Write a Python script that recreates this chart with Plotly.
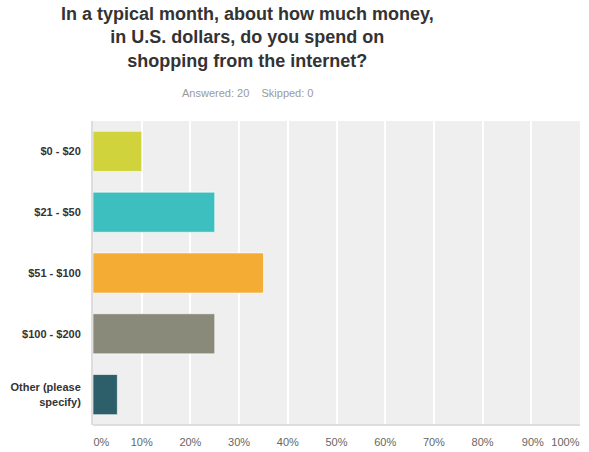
import plotly.graph_objects as go

# Survey answers and share of respondents (%)
categories = ["$0 - $20", "$21 - $50", "$51 - $100", "$100 - $200", "Other (please<br>specify)"]
percentages = [10, 25, 35, 25, 5]
bar_colors = ["#d0d33c", "#3dbfbf", "#f4ac35", "#8a8a7b", "#2d5f6a"]
inner_tick_values = [10, 20, 30, 40, 50, 60, 70, 80, 90]
inner_tick_labels = ["10%", "20%", "30%", "40%", "50%", "60%", "70%", "80%", "&nbsp;90%"]
start_tick, start_label = 0, "0%"
end_tick, end_label = 100, "100%"

title_text = ("In a typical month, about how much money,<br>"
              "in U.S. dollars, do you spend on<br>"
              "shopping from the internet?")
subtitle_text = "Answered: 20&nbsp;&nbsp;&nbsp;&nbsp;Skipped: 0"

fig = go.Figure(
    go.Bar(
        x=percentages,
        y=categories,
        orientation="h",
        marker=dict(color=bar_colors, line=dict(color="rgba(255,255,255,0.6)", width=1)),
        width=0.66,
        hoverinfo="x+y",
    )
)
# Empty traces so the two overlay axes (end labels kept inside the plot width) get drawn
fig.add_trace(go.Scatter(x=[], y=[], xaxis="x2", showlegend=False, hoverinfo="skip"))
fig.add_trace(go.Scatter(x=[], y=[], xaxis="x3", showlegend=False, hoverinfo="skip"))

PLOT_TOP, PLOT_H, PLOT_L, PLOT_W = 121, 304, 93, 487


def py(pixel_y):
    """Paper y coordinate for a pixel row of the page."""
    return 1 + (PLOT_TOP - pixel_y) / PLOT_H


def px(pixel_x):
    """Paper x coordinate for a pixel column of the page."""
    return (pixel_x - PLOT_L) / PLOT_W


tick_font = dict(size=11, color="#666666")
label_axis_common = dict(
    range=[0, 100],
    overlaying="x",
    side="bottom",
    anchor="y",
    showgrid=False,
    zeroline=False,
    showline=False,
    ticks="outside",
    ticklen=7,
    ticklabelstandoff=7,
    tickcolor="rgba(0,0,0,0)",
    tickfont=tick_font,
    automargin=False,
    fixedrange=True,
)

fig.update_layout(
    width=589,
    height=452,
    margin=dict(l=PLOT_L, r=9, t=PLOT_TOP, b=27, autoexpand=False),
    paper_bgcolor="white",
    plot_bgcolor="#efefef",
    font=dict(family="Liberation Sans, Arial, sans-serif", color="#333"),
    showlegend=False,
    annotations=[
        dict(
            text=title_text,
            xref="paper", yref="paper",
            x=px(247), y=py(2),
            xanchor="center", yanchor="top",
            align="center",
            showarrow=False,
            font=dict(size=18, color="#333", weight="bold"),
        ),
        dict(
            text=subtitle_text,
            xref="paper", yref="paper",
            x=px(247), y=py(93),
            xanchor="center", yanchor="middle",
            showarrow=False,
            font=dict(size=11, color="#9a9a9a"),
        ),
    ],
    xaxis=dict(
        range=[0, 100],
        tickvals=[start_tick] + inner_tick_values + [end_tick],
        ticktext=[""] + inner_tick_labels + [""],
        showgrid=True,
        gridcolor="white",
        gridwidth=2,
        zeroline=False,
        showline=False,
        ticks="outside",
        ticklen=7,
        tickcolor="rgba(0,0,0,0)",
        tickfont=tick_font,
        automargin=False,
        fixedrange=True,
    ),
    xaxis2=dict(label_axis_common, tickvals=[start_tick], ticktext=[start_label],
                ticklabelposition="outside right"),
    xaxis3=dict(label_axis_common, tickvals=[end_tick], ticktext=[end_label],
                ticklabelposition="outside left"),
    yaxis=dict(
        autorange="reversed",
        showgrid=False,
        zeroline=False,
        showline=True,
        linecolor="#dddddd",
        linewidth=2,
        ticks="outside",
        ticklen=8,
        tickcolor="rgba(0,0,0,0)",
        tickfont=dict(size=11, color="#333333", weight="bold"),
        automargin=False,
        fixedrange=True,
    ),
)

# Light frame along the bottom edge of the plotting area
fig.add_shape(type="line", xref="paper", yref="paper", x0=0, x1=1, y0=0, y1=0,
              line=dict(color="#dddddd", width=2))

fig.write_html("out.html")
